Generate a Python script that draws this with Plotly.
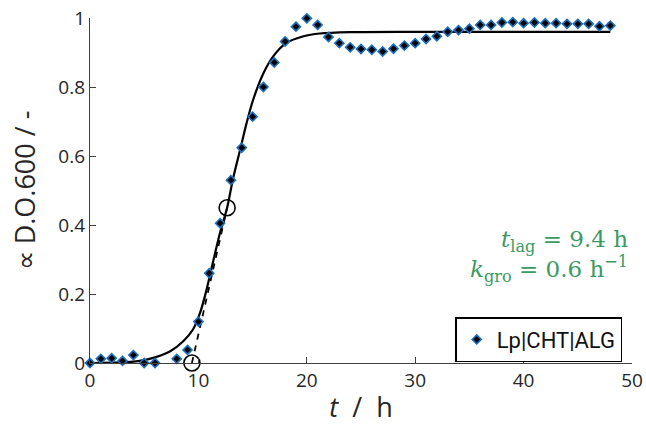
import plotly.graph_objects as go

# measured data
t_obs = list(range(0, 49))
od_obs = [0.0, 0.012, 0.014, 0.006, 0.023, 0.0, 0.0, -0.003, 0.012, 0.038,
          0.12, 0.26, 0.405, 0.53, 0.624, 0.714, 0.80, 0.871, 0.932, 0.975,
          0.999, 0.98, 0.945, 0.927, 0.915, 0.910, 0.908, 0.903, 0.911, 0.92,
          0.927, 0.939, 0.947, 0.96, 0.965, 0.969, 0.98, 0.98, 0.987, 0.988,
          0.985, 0.987, 0.985, 0.985, 0.983, 0.983, 0.983, 0.976, 0.978]

# fitted curve
t_fit = [0, 2, 4, 5.5, 7.4, 8.6, 9.5, 10.15, 10.75, 11.4, 12.0, 12.65, 13.2,
         13.85, 14.45, 15.05, 16.0, 16.9, 18.1, 19.7, 21.2, 24, 30, 48]
od_fit = [0.0, 0.001, 0.004, 0.012, 0.034, 0.063, 0.097, 0.145, 0.212, 0.30,
          0.378, 0.45, 0.535, 0.618, 0.696, 0.763, 0.84, 0.889, 0.927, 0.947,
          0.955, 0.959, 0.96, 0.96]

# tangent / characteristic points
t_tan = [9.4, 12.65]
od_tan = [0.0, 0.45]

legend_label = "Lp|CHT|ALG"
x_ticks = [0, 10, 20, 30, 40, 50]
y_ticks = [0, 0.2, 0.4, 0.6, 0.8, 1]

FONT = "Open Sans"
GREEN = "#3a9a62"

fig = go.Figure()

fig.add_trace(go.Scatter(
    x=t_fit, y=od_fit, mode="lines", line=dict(color="black", width=2.2, shape="spline", smoothing=0.8),
    showlegend=False, hoverinfo="skip"))

fig.add_trace(go.Scatter(
    x=t_tan, y=od_tan, mode="lines", line=dict(color="black", width=1.8, dash="6px,6px"),
    showlegend=False, hoverinfo="skip"))

fig.add_trace(go.Scatter(
    x=t_obs, y=od_obs, mode="markers", name=legend_label,
    marker=dict(symbol="diamond", size=7, color="black", line=dict(color="#1c70c0", width=1.6)),
    cliponaxis=False))

fig.add_trace(go.Scatter(
    x=t_tan, y=od_tan, mode="markers",
    marker=dict(symbol="circle-open", size=16, color="black", line=dict(width=1.6)),
    showlegend=False, cliponaxis=False, hoverinfo="skip"))

fig.add_annotation(
    x=0.997, y=0.31, xref="paper", yref="paper", xanchor="right", yanchor="middle",
    align="right", showarrow=False,
    text="<i>t</i><sub>lag</sub> = 9.4 h<br><i>k</i><sub>gro</sub> = 0.6 h<sup>\u22121</sup>",
    font=dict(family="DejaVu Serif", size=23, color=GREEN))

fig.update_layout(
    width=646, height=434,
    margin=dict(l=90, r=14, t=18, b=71, autoexpand=False),
    paper_bgcolor="white", plot_bgcolor="white",
    font=dict(family=FONT, size=19, color="#262626"),
    legend=dict(x=0.982, y=0.133, xanchor="right", yanchor="top",
                bordercolor="black", borderwidth=1.5, bgcolor="white",
                font=dict(family="Roboto", size=22, color="#111111"),
                itemwidth=30, tracegroupgap=0),
    xaxis=dict(range=[0, 50], tickvals=x_ticks, showgrid=False, zeroline=False,
               showline=True, linecolor="#404040", linewidth=1.3, automargin=False,
               ticks="inside", ticklen=6, tickcolor="#404040",
               title=dict(text="<i>t</i>  /  h", font=dict(size=27), standoff=6)),
    yaxis=dict(range=[0, 1], tickvals=y_ticks, showgrid=False, zeroline=False,
               showline=True, linecolor="#404040", linewidth=1.3, automargin=False,
               ticks="inside", ticklen=6, tickcolor="#404040",
               title=dict(text="\u221d D.O.600 / -", font=dict(size=27), standoff=14)),
)

fig.write_html("out.html")
